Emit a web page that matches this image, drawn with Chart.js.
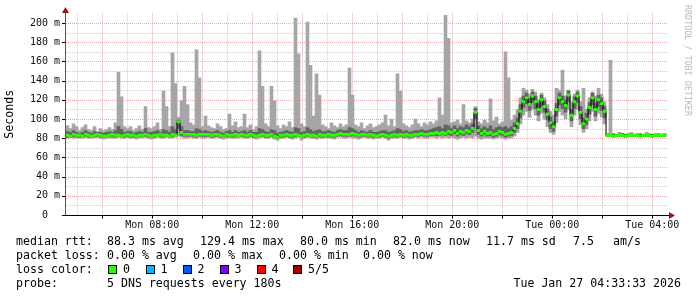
<!DOCTYPE html>
<html>
<head>
<meta charset="utf-8">
<script src="https://cdn.jsdelivr.net/npm/chart.js@4.4.1/dist/chart.umd.min.js"></script>
<style>
body { margin: 0; background: #fff; width: 697px; height: 297px; overflow: hidden; position: relative; font-family: "DejaVu Sans Mono", monospace; }
#c { position: absolute; left: 0; top: 0; }
.t { position: absolute; font-size: 11.6px; line-height: 14px; white-space: pre; color: #000; }
.sq { position: absolute; width: 7px; height: 7px; border: 1px solid #000; }
#rrd { position: absolute; left: 693px; top: 5px; transform-origin: 0 0; transform: rotate(90deg); font-size: 8.4px; line-height: 10px; color: #b8b8b8; white-space: pre; }
</style>
</head>
<body>
<canvas id="c" width="697" height="297"></canvas>
<div id="rrd">RRDTOOL / TOBI OETIKER</div>

<div class="t" style="left:16px;top:233.5px">median rtt:</div>
<div class="t" style="left:107px;top:233.5px">88.3 ms avg</div>
<div class="t" style="left:200px;top:233.5px">129.4 ms max</div>
<div class="t" style="left:300px;top:233.5px">80.0 ms min</div>
<div class="t" style="left:393px;top:233.5px">82.0 ms now</div>
<div class="t" style="left:486px;top:233.5px">11.7 ms sd</div>
<div class="t" style="left:573px;top:233.5px">7.5</div>
<div class="t" style="left:613px;top:233.5px">am/s</div>

<div class="t" style="left:16px;top:247.5px">packet loss:</div>
<div class="t" style="left:107px;top:247.5px">0.00 % avg</div>
<div class="t" style="left:193px;top:247.5px">0.00 % max</div>
<div class="t" style="left:279px;top:247.5px">0.00 % min</div>
<div class="t" style="left:363px;top:247.5px">0.00 % now</div>

<div class="t" style="left:16px;top:261.5px">loss color:</div>
<div id="losses"></div>

<div class="t" style="left:16px;top:275.5px">probe:</div>
<div class="t" style="left:107px;top:275.5px">5 DNS requests every 180s</div>
<div class="t" style="right:16px;top:275.5px">Tue Jan 27 04:33:33 2026</div>

<script>
// time axis: hours since Mon 00:00, one sample every 0.12 h
var START = 4.55;
var END = 28.63;
var STEP = 0.12;

var gridHours = [5,6,7,8,9,10,11,12,13,14,15,16,17,18,19,20,21,22,23,24,25,26,27,28];
var labelHours = [8, 12, 16, 20, 24, 28];
var xTickLabels = ['Mon 08:00', 'Mon 12:00', 'Mon 16:00', 'Mon 20:00', 'Tue 00:00', 'Tue 04:00'];
var yTicks = [0,10,20,30,40,50,60,70,80,90,100,110,120,130,140,150,160,170,180,190,200];
var yTickLabels = ['0  ','','20 m','','40 m','','60 m','','80 m','','100 m','','120 m','','140 m','','160 m','','180 m','','200 m'];

// milliseconds
var median = [
  83,82,84,83,83,82,84,83,82,83, 84,83,82,82,83,84,83,83,82,83,
  84,83,83,82,83,83,84,83,82,83, 83,84,83,83,82,84,83,97,86,84,
  84,84,84,83,84,84,84,84,83,84, 84,83,82,84,83,83,84,83,84,83,
  83,84,83,82,83,84,83,83,84,82, 81,83,83,84,83,83,84,83,82,83,
  84,83,83,82,84,83,83,84,83,83, 84,85,84,84,84,85,84,83,84,84,
  83,84,83,82,83,84,83,82,83,84, 83,84,83,84,83,83,84,84,85,84,
  84,85,85,86,85,86,85,87,86,88, 85,87,86,88,87,90,107,88,85,87,
  85,86,84,85,87,86,84,85,86,90, 95,108,118,122,115,124,118,110,120,113,
  105,96,92,110,122,118,114,125,104,118, 124,107,95,100,112,122,110,120,116,108,
  83,83,82,83,83,83,82,83,83,83, 83,82,83,83,83,82,83,83,83,83
];
var pingMax = [
  93,90,95,92,88,91,94,89,88,92, 87,90,88,89,91,89,96,149,123,92,
  90,92,88,90,93,89,113,91,90,92, 96,89,129,113,92,169,137,102,119,134,
  115,96,94,172,143,92,103,93,91,90, 95,92,89,90,105,93,97,91,92,105,
  91,94,89,92,171,134,95,92,134,119, 93,90,94,92,97,91,205,168,95,92,
  201,156,103,147,125,94,92,90,96,93, 91,95,92,94,153,125,94,92,96,90,
  93,95,91,92,94,96,104,93,100,92, 147,129,95,93,91,94,100,95,92,96,
  94,97,95,98,122,104,208,184,96,97, 99,95,115,98,96,100,113,97,95,99,
  96,121,98,102,95,97,170,143,99,104, 110,122,132,130,126,131,128,120,127,122,
  115,108,104,132,130,151,124,130,118,126, 130,118,132,110,122,128,124,132,126,118,
  85,161,85,84,86,85,84,85,86,84, 85,85,84,86,85,84,85,85,84,85
];
var pingMin = [
  80,81,80,81,80,80,81,80,80,81, 81,80,79,80,81,80,80,81,80,80,
  81,80,80,79,81,80,81,80,79,80, 81,80,80,81,80,80,81,82,81,80,
  80,81,80,80,81,80,80,81,80,80, 81,80,79,80,81,80,80,80,81,80,
  80,81,80,79,80,81,80,80,81,79, 78,80,80,81,80,79,80,81,78,80,
  81,80,80,79,80,80,81,80,80,79, 81,81,80,80,81,80,80,79,80,81,
  80,80,79,80,80,81,80,78,80,80, 80,81,80,80,79,80,81,80,81,80,
  80,81,81,80,81,80,81,80,81,80, 79,80,81,80,81,80,82,80,79,80,
  80,80,79,80,81,80,79,80,80,82, 86,95,104,108,102,110,104,98,106,100,
  92,86,84,96,108,104,100,110,92,104, 110,94,86,90,98,108,98,106,102,95,
  82,82,81,82,82,82,81,82,82,82, 82,81,82,82,82,81,82,82,82,82
];
var innerLo = [
  81,81,82,81,81,81,82,81,81,81, 82,81,81,81,81,82,81,82,81,81,
  82,81,81,81,81,82,82,81,81,81, 82,82,81,82,81,82,82,90,83,82,
  82,82,82,81,82,82,82,82,81,82, 82,81,81,82,81,81,82,82,82,81,
  81,82,81,81,82,82,81,81,82,81, 80,81,81,82,81,81,82,82,81,81,
  82,82,81,81,82,81,81,82,81,81, 82,83,82,82,82,83,82,81,82,82,
  81,82,81,81,81,82,81,80,81,82, 81,82,81,82,81,81,82,82,83,82,
  82,83,83,83,83,84,83,84,83,85, 82,84,83,85,84,86,100,84,82,84,
  82,83,81,82,84,83,81,82,83,86, 90,101,112,116,109,117,111,104,113,107,
  99,90,87,103,115,111,107,118,98,111, 117,100,90,94,105,115,103,113,109,101,
  82,82,82,82,82,82,82,82,82,82, 82,82,82,82,82,82,82,82,82,82
];
var innerHi = [
  87,86,88,86,85,86,88,86,85,87, 86,86,85,86,87,86,88,92,89,86,
  87,87,85,86,87,86,90,86,86,87, 88,86,89,88,86,92,89,99,92,88,
  88,87,87,90,89,87,88,87,86,87, 88,86,85,87,88,86,88,86,87,88,
  86,88,86,86,90,89,87,86,89,88, 85,86,87,88,87,86,91,90,86,87,
  91,89,87,88,89,87,87,88,87,86, 88,89,88,88,91,90,88,86,88,87,
  86,88,86,86,87,88,88,86,87,88, 90,89,87,88,86,87,88,88,89,88,
  88,89,90,91,92,90,94,93,90,93, 90,92,91,94,92,95,111,93,90,92,
  90,93,89,91,92,91,92,90,92,96, 101,115,124,127,121,128,124,116,125,119,
  110,102,97,116,127,124,120,129,110,123, 128,113,101,106,117,127,116,125,122,113,
  84,84,84,84,84,85,84,84,84,84, 84,84,84,84,84,84,84,84,84,84
];

var lossNames = ['0', '1', '2', '3', '4', '5/5'];
var lossColors = ['#26ff00', '#00b8ff', '#0059ff', '#7e00ff', '#ff0000', '#a10000'];
var lossLeft = [108, 145.5, 182.5, 219.5, 256.5, 293];

var losses = document.getElementById('losses');
lossNames.forEach(function (n, i) {
    losses.innerHTML += '<div class="sq" style="left:' + lossLeft[i] + 'px;top:265px;background:' + lossColors[i] + '"></div>' +
        '<div class="t" style="left:' + (lossLeft[i] + 15) + 'px;top:261.5px">' + n + '</div>';
});

var hours = median.map(function (m, i) { return START + STEP * (i + 0.5); });
var range = function (lo, hi) {
    return hours.map(function (h, i) { return {x: h, y: [lo[i], hi[i]]}; });
};
var medBand = hours.map(function (h, i) { return {x: h, y: [median[i] - 1.2, median[i] + 1.2]}; });
var medLine = hours.map(function (h, i) { return {x: h, y: median[i]}; });

var MONO = '"DejaVu Sans Mono", monospace';
var MINOR = '#cccccc';
var MAJOR = '#eaa8a8';

// dotted rrdtool grid, drawn under the data
var rrdGrid = {
    id: 'rrdGrid',
    beforeDatasetsDraw: function (chart) {
        var ctx = chart.ctx, a = chart.chartArea, sx = chart.scales.x, sy = chart.scales.y;
        ctx.save();
        ctx.lineWidth = 1;
        ctx.setLineDash([1, 1]);
        [MINOR, MAJOR].forEach(function (col) {
            ctx.strokeStyle = col;
            ctx.beginPath();
            gridHours.forEach(function (h) {
                if ((h % 2 === 0) !== (col === MAJOR)) return;
                var px = Math.round(sx.getPixelForValue(h)) + 0.5;
                ctx.moveTo(px, a.top);
                ctx.lineTo(px, a.bottom);
            });
            yTicks.forEach(function (v) {
                if (v === 0 || (v % 20 === 0) !== (col === MAJOR)) return;
                var py = Math.round(sy.getPixelForValue(v)) + 0.5;
                ctx.moveTo(a.left, py);
                ctx.lineTo(a.right, py);
            });
            ctx.stroke();
        });
        ctx.restore();
    }
};

// axis lines with rrdtool style arrows
var rrdAxes = {
    id: 'rrdAxes',
    afterDraw: function (chart) {
        var ctx = chart.ctx, a = chart.chartArea;
        var y0 = Math.round(chart.scales.y.getPixelForValue(0)) + 0.5;
        ctx.save();
        ctx.lineWidth = 1;
        ctx.strokeStyle = '#000';
        ctx.beginPath();
        ctx.moveTo(a.left - 1, y0);
        ctx.lineTo(a.right + 3, y0);
        ctx.stroke();
        ctx.strokeStyle = '#555';
        ctx.beginPath();
        ctx.moveTo(a.left - 0.5, y0);
        ctx.lineTo(a.left - 0.5, 10);
        ctx.stroke();
        // major tick marks
        ctx.strokeStyle = '#000';
        ctx.beginPath();
        gridHours.forEach(function (h) {
            if (h % 2 !== 0) return;
            var px = Math.round(chart.scales.x.getPixelForValue(h)) + 0.5;
            ctx.moveTo(px, y0);
            ctx.lineTo(px, y0 + 3);
        });
        yTicks.forEach(function (v) {
            if (v % 20 !== 0) return;
            var py = Math.round(chart.scales.y.getPixelForValue(v)) + 0.5;
            ctx.moveTo(a.left - 4, py);
            ctx.lineTo(a.left - 1, py);
        });
        ctx.stroke();
        ctx.fillStyle = '#a01010';
        ctx.beginPath();
        ctx.moveTo(a.right + 1, y0 - 3.5);
        ctx.lineTo(a.right + 7, y0);
        ctx.lineTo(a.right + 1, y0 + 3.5);
        ctx.fill();
        ctx.beginPath();
        ctx.moveTo(a.left - 4, 13);
        ctx.lineTo(a.left - 0.5, 7);
        ctx.lineTo(a.left + 3, 13);
        ctx.fill();
        ctx.restore();
    }
};

var chart = new Chart(document.getElementById('c'), {
    type: 'bar',
    data: {
        datasets: [
            {data: medBand, backgroundColor: '#26ff00', order: 0},
            {type: 'line', data: medLine, borderColor: '#000', borderWidth: 1, pointRadius: 0, stepped: 'middle', order: 1},
            {data: range(innerLo, innerHi), backgroundColor: '#646464', order: 2},
            {data: range(pingMin, pingMax), backgroundColor: '#a6a6a6', order: 3}
        ]
    },
    options: {
        responsive: false,
        animation: false,
        devicePixelRatio: 1,
        layout: {padding: {left: 0, right: 29, top: 13.4, bottom: 0}},
        plugins: {legend: {display: false}, tooltip: {enabled: false}},
        datasets: {bar: {grouped: false, barPercentage: 1, categoryPercentage: 1, borderWidth: 0}},
        scales: {
            x: {
                type: 'linear', min: START, max: END, offset: false,
                afterBuildTicks: function (s) { s.ticks = gridHours.map(function (v) { return {value: v}; }); },
                afterFit: function (s) { s.height = 82; },
                grid: {display: false, drawTicks: false},
                border: {display: false},
                ticks: {
                    autoSkip: false, maxRotation: 0, minRotation: 0, padding: 4, color: '#111',
                    font: {family: MONO, size: 10},
                    callback: function (v) { var k = labelHours.indexOf(v); return k < 0 ? '' : xTickLabels[k]; }
                }
            },
            y: {
                min: 0, max: 210,
                afterBuildTicks: function (s) { s.ticks = yTicks.map(function (v) { return {value: v}; }); },
                afterFit: function (s) { s.width = 66; },
                grid: {display: false, drawTicks: false},
                border: {display: false},
                ticks: {
                    padding: 6, color: '#111', font: {family: MONO, size: 10},
                    callback: function (v) { var k = yTicks.indexOf(v); return k < 0 ? '' : yTickLabels[k]; }
                },
                title: {display: true, text: 'Seconds', color: '#000', font: {family: MONO, size: 11.6}, padding: {top: 3, bottom: 0}}
            }
        }
    },
    plugins: [rrdGrid, rrdAxes]
});
</script>
</body>
</html>
